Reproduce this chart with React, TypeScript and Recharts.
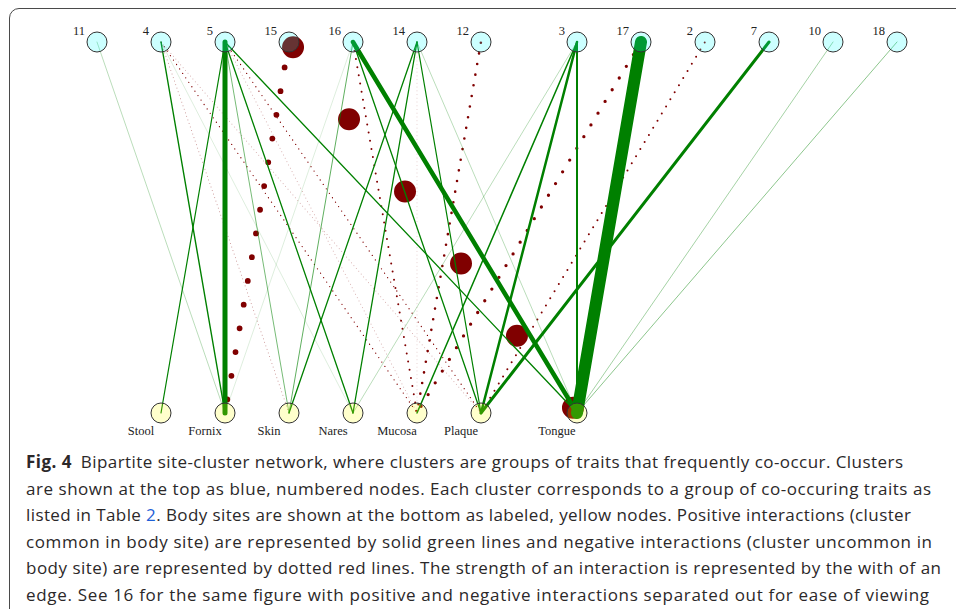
import React from "react";
import { ScatterChart, Scatter, XAxis, YAxis } from "recharts";

// Trait clusters (top row) and body sites (bottom row), left to right
const CLUSTERS = ["11", "4", "5", "15", "16", "14", "12", "3", "17", "2", "7", "10", "18"];
const SITES = ["Stool", "Fornix", "Skin", "Nares", "Mucosa", "Plaque", "Tongue"];

// [cluster, site, strength] – cluster common in body site
const POSITIVE_EDGES: [string, string, number][] = [
  ["11", "Fornix", 0.3],
  ["4", "Fornix", 1.4],
  ["4", "Nares", 0.15],
  ["5", "Stool", 1.2],
  ["5", "Fornix", 5],
  ["5", "Skin", 0.6],
  ["5", "Nares", 1.3],
  ["5", "Tongue", 1.3],
  ["16", "Fornix", 0.15],
  ["16", "Skin", 0.7],
  ["16", "Plaque", 1.3],
  ["16", "Tongue", 4.5],
  ["14", "Skin", 1.3],
  ["14", "Nares", 1.3],
  ["14", "Plaque", 1.2],
  ["14", "Tongue", 0.3],
  ["3", "Nares", 0.3],
  ["3", "Mucosa", 1.5],
  ["3", "Plaque", 2.5],
  ["3", "Tongue", 2],
  ["17", "Tongue", 12],
  ["7", "Plaque", 3],
  ["10", "Tongue", 0.4],
  ["18", "Tongue", 0.5],
];

// [cluster, site, strength] – cluster uncommon in body site
const NEGATIVE_EDGES: [string, string, number][] = [
  ["4", "Skin", 0.5],
  ["4", "Mucosa", 1.3],
  ["4", "Plaque", 0.4],
  ["5", "Mucosa", 0.4],
  ["5", "Plaque", 1.3],
  ["14", "Mucosa", 0.25],
  ["16", "Mucosa", 2],
  ["12", "Mucosa", 2.6],
  ["17", "Mucosa", 3.3],
  ["2", "Plaque", 2],
  ["15", "Fornix", 5.8],
  ["15", "Tongue", 22],
];

const CAPTION_LINES = [
  "Bipartite site-cluster network, where clusters are groups of traits that frequently co-occur. Clusters",
  "are shown at the top as blue, numbered nodes. Each cluster corresponds to a group of co-occuring traits as",
  "listed in Table 2. Body sites are shown at the bottom as labeled, yellow nodes. Positive interactions (cluster",
  "common in body site) are represented by solid green lines and negative interactions (cluster uncommon in",
  "body site) are represented by dotted red lines. The strength of an interaction is represented by the with of an",
  "edge. See 16 for the same figure with positive and negative interactions separated out for ease of viewing",
];
const CAPTION_WIDTHS = [877, 905, 885, 906, 915, 903];

// clusters from "3" on, and Tongue below, sit after a half-slot gap
const clusterNodes = CLUSTERS.map((name, i) => ({ name, x: i + 1 + (i >= 7 ? 0.5 : 0), y: 1 }));
const siteNodes = SITES.map((name, i) => ({ name, x: i + 2 + (i >= 6 ? 0.5 : 0), y: 0 }));

const edgeData = (cluster: string, site: string) => [
  clusterNodes.find((n) => n.name === cluster)!,
  siteNodes.find((n) => n.name === site)!,
];

const clamp = (v: number) => Math.max(0.12, Math.min(1, v));

const LABEL_FONT = "'Liberation Serif', 'Times New Roman', serif";

const ClusterNode = (props: any) => {
  const { cx, cy, payload } = props;
  return (
    <g>
      <circle cx={cx} cy={cy} r={10} fill="#00ffff" fillOpacity={0.2} stroke="#333" strokeWidth={1} />
      <text x={cx - 12} y={cy - 7} textAnchor="end" fontSize={12.5} fontFamily={LABEL_FONT} fill="#222">
        {payload.name}
      </text>
    </g>
  );
};

const SiteNode = (props: any) => {
  const { cx, cy, payload } = props;
  return (
    <g>
      <circle cx={cx} cy={cy} r={10} fill="#ffff00" fillOpacity={0.2} stroke="#333" strokeWidth={1} />
      <text x={cx - 20} y={cy + 22} textAnchor="middle" fontSize={12.5} fontFamily={LABEL_FONT} fill="#222">
        {payload.name}
      </text>
    </g>
  );
};

const NoPoint = () => <g />;

export default function App() {
  return (
    <div
      style={{
        position: "fixed",
        left: 0,
        top: 0,
        width: 956,
        height: 609,
        overflow: "hidden",
        background: "#fff",
      }}
    >
      <div
        style={{
          position: "absolute",
          left: 9,
          top: 8,
          width: 990,
          height: 660,
          border: "1.5px solid #4a4a4a",
          borderRadius: 10,
        }}
      />
      <div style={{ position: "absolute", left: 0, top: 0 }}>
        <ScatterChart width={956} height={450} margin={{ top: 42, right: 59, bottom: 37, left: 97 }}>
          <XAxis type="number" dataKey="x" domain={[1, 13.5]} hide />
          <YAxis type="number" dataKey="y" domain={[0, 1]} hide />
          {NEGATIVE_EDGES.map(([c, s, w]) => {
            const d = Math.max(w, 0.9);
            return (
              <Scatter
                key={`neg-${c}-${s}`}
                data={edgeData(c, s)}
                shape={NoPoint}
                line={{
                  stroke: "#800000",
                  strokeWidth: d,
                  strokeOpacity: clamp(w),
                  strokeDasharray: `0 ${4.15 * d}`,
                  strokeDashoffset: -0.3 * d,
                  strokeLinecap: "round",
                }}
                isAnimationActive={false}
              />
            );
          })}
          {POSITIVE_EDGES.map(([c, s, w]) => (
            <Scatter
              key={`pos-${c}-${s}`}
              data={edgeData(c, s)}
              shape={NoPoint}
              line={{
                stroke: "#008000",
                strokeWidth: Math.max(w, 0.9),
                strokeOpacity: clamp(w),
                strokeLinecap: "round",
              }}
              isAnimationActive={false}
            />
          ))}
          <Scatter data={clusterNodes} shape={ClusterNode} isAnimationActive={false} />
          <Scatter data={siteNodes} shape={SiteNode} isAnimationActive={false} />
        </ScatterChart>
      </div>
      <svg
        width={956}
        height={169}
        style={{ position: "absolute", left: 0, top: 440 }}
        fontFamily="'Open Sans', 'Noto Sans', sans-serif"
        fontSize={17}
        fill="#2b2829"
      >
        {CAPTION_LINES.map((line, i) => {
          const y = 28 + i * 26.5;
          const w = CAPTION_WIDTHS[i];
          if (i === 0) {
            return (
              <text key={i} x={26} y={y} textLength={w} lengthAdjust="spacing">
                <tspan fontWeight="bold">Fig. 4</tspan>
                <tspan dx={9}>{line}</tspan>
              </text>
            );
          }
          if (line.includes("Table 2")) {
            const [before, after] = line.split("Table 2");
            return (
              <text key={i} x={26} y={y} textLength={w} lengthAdjust="spacing">
                {before}Table <tspan fill="#1f5fd6">2</tspan>
                {after}
              </text>
            );
          }
          return (
            <text key={i} x={26} y={y} textLength={w} lengthAdjust="spacing">
              {line}
            </text>
          );
        })}
      </svg>
    </div>
  );
}
